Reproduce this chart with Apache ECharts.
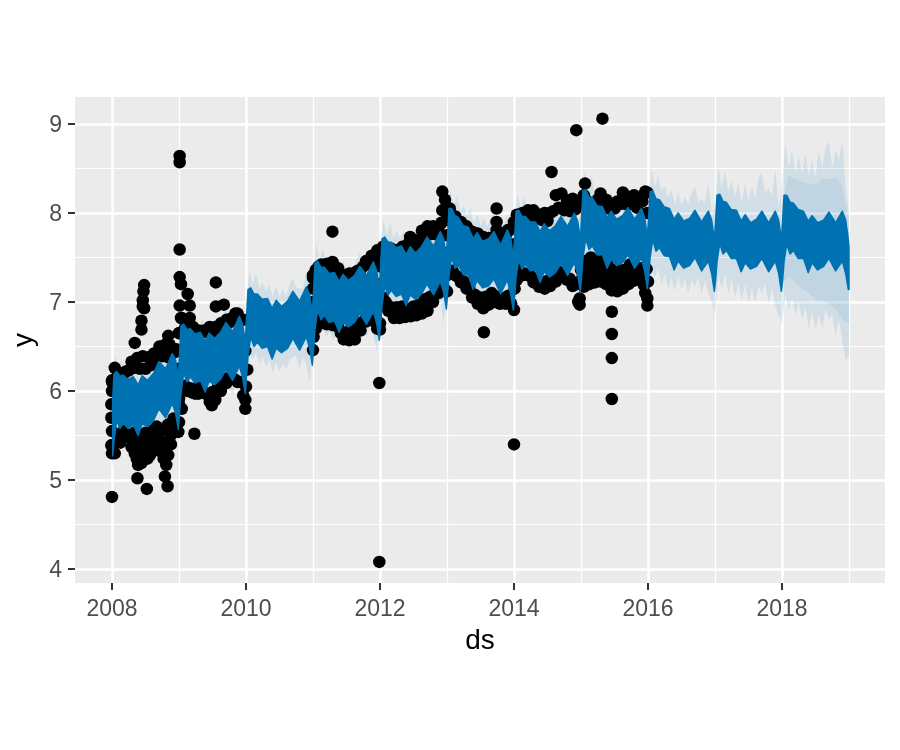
<!DOCTYPE html>
<html><head><meta charset="utf-8">
<script src="https://cdn.jsdelivr.net/npm/echarts@6/dist/echarts.min.js"></script>
<style>html,body{margin:0;background:#fff}#c{width:900px;height:750px}</style></head>
<body><div id="c"></div>
<script>
// Axis ticks
const xMajorTicks=[2008,2010,2012,2014,2016,2018];
const xMinorTicks=[2009,2011,2013,2015,2017,2019];
const yMajorTicks=[4,5,6,7,8,9];
const yMinorTicks=[4.5,5.5,6.5,7.5,8.5];

// Forecast ribbon: knots inside each year, 2008..2018 (16 per year)
const forecastYears=[2008,2009,2010,2011,2012,2013,2014,2015,2016,2017,2018];
const knotFractions=[.01,.03,.07,.12,.17,.24,.32,.39,.45,.53,.62,.70,.80,.90,.95,.99];
const yhatHigh=[
5.90,6.19,6.22,6.17,6.18,6.13,6.16,6.07,6.17,6.12,6.20,6.33,6.25,6.42,6.35,6.15,
6.44,6.73,6.75,6.69,6.70,6.64,6.66,6.56,6.65,6.59,6.66,6.77,6.67,6.84,6.75,6.55,
6.85,7.14,7.16,7.09,7.09,7.03,7.04,6.93,7.02,6.95,7.01,7.12,7.01,7.17,7.08,6.87,
7.15,7.44,7.46,7.39,7.39,7.32,7.33,7.23,7.31,7.24,7.30,7.40,7.30,7.45,7.36,7.15,
7.42,7.71,7.73,7.67,7.67,7.61,7.63,7.53,7.62,7.55,7.62,7.73,7.63,7.79,7.71,7.50,
7.77,8.05,8.05,7.97,7.95,7.86,7.84,7.71,7.78,7.68,7.71,7.79,7.64,7.81,7.72,7.50,
7.73,8.02,8.03,7.96,7.96,7.90,7.90,7.79,7.88,7.80,7.86,7.96,7.85,8.00,7.91,7.70,
7.97,8.25,8.26,8.18,8.17,8.08,8.07,7.95,8.02,7.93,7.97,8.06,7.93,8.05,7.95,7.73,
7.96,8.24,8.25,8.16,8.15,8.07,8.05,7.93,8.00,7.91,7.94,8.03,7.90,8.02,7.92,7.70,
7.92,8.20,8.21,8.13,8.12,8.04,8.03,7.91,7.98,7.89,7.93,8.02,7.89,8.02,7.92,7.70,
7.93,8.20,8.20,8.12,8.11,8.04,8.02,7.91,7.97,7.89,7.92,8.01,7.89,8.02,7.92,7.70];
const yhatLow=[
5.27,5.44,5.67,5.58,5.64,5.58,5.62,5.50,5.63,5.60,5.67,5.80,5.70,5.86,5.75,5.57,
5.77,5.98,6.20,6.10,6.16,6.09,6.12,5.99,6.11,6.07,6.13,6.24,6.12,6.28,6.15,5.97,
6.18,6.39,6.61,6.50,6.55,6.48,6.50,6.36,6.48,6.43,6.48,6.59,6.46,6.61,6.48,6.29,
6.48,6.69,6.91,6.80,6.85,6.77,6.79,6.66,6.77,6.72,6.77,6.87,6.75,6.89,6.76,6.57,
6.75,6.96,7.18,7.08,7.13,7.06,7.09,6.96,7.08,7.03,7.09,7.20,7.08,7.23,7.11,6.92,
7.10,7.30,7.50,7.38,7.41,7.31,7.30,7.14,7.24,7.16,7.18,7.26,7.09,7.25,7.09,6.91,
7.06,7.27,7.48,7.37,7.42,7.35,7.36,7.22,7.34,7.28,7.33,7.43,7.30,7.44,7.31,7.12,
7.30,7.50,7.71,7.59,7.63,7.53,7.53,7.38,7.48,7.41,7.44,7.53,7.38,7.49,7.35,7.15,
7.29,7.49,7.70,7.57,7.61,7.52,7.51,7.36,7.46,7.38,7.41,7.50,7.35,7.46,7.32,7.12,
7.25,7.45,7.66,7.54,7.58,7.49,7.49,7.34,7.44,7.37,7.40,7.49,7.34,7.46,7.32,7.12,
7.25,7.45,7.65,7.54,7.58,7.49,7.49,7.33,7.44,7.36,7.40,7.49,7.35,7.46,7.32,7.14];
const yhatLastTime=2019, yhatLastHigh=7.62, yhatLastLow=7.14;

// Uncertainty interval, one value every 0.05 year, 2008..2018
const bandHigh=[
5.95,6.40,6.25,6.35,6.20,6.25,6.20,6.30,6.12,6.30,6.15,6.28,6.25,6.42,6.50,6.35,6.38,6.35,6.55,6.25,
6.50,6.92,6.78,6.88,6.75,6.80,6.72,6.82,6.65,6.80,6.70,6.78,6.72,6.85,6.92,6.80,6.80,6.80,6.98,6.70,
6.95,7.35,7.20,7.32,7.15,7.22,7.12,7.20,7.05,7.18,7.06,7.15,7.05,7.20,7.27,7.16,7.15,7.15,7.35,7.08,
7.20,7.65,7.48,7.60,7.42,7.50,7.40,7.48,7.32,7.47,7.35,7.42,7.35,7.48,7.55,7.42,7.42,7.42,7.62,7.30,
7.50,7.92,7.75,7.88,7.72,7.80,7.70,7.80,7.62,7.78,7.65,7.72,7.68,7.82,7.90,7.75,7.75,7.78,7.97,7.65,
7.82,8.25,8.08,8.20,8.02,8.08,7.98,8.06,7.88,8.00,7.86,7.95,7.84,7.95,8.00,7.88,7.85,7.85,8.00,7.70,
7.78,8.22,8.05,8.18,8.02,8.08,8.00,8.08,7.90,8.07,7.95,8.02,7.95,8.08,8.15,8.00,8.02,8.02,8.20,7.88,
8.02,8.47,8.30,8.42,8.25,8.30,8.20,8.27,8.10,8.25,8.10,8.17,8.08,8.20,8.28,8.12,8.12,8.12,8.30,8.00,
8.00,8.50,8.30,8.42,8.25,8.30,8.18,8.26,8.10,8.24,8.08,8.18,8.10,8.22,8.30,8.12,8.16,8.12,8.33,8.00,
8.05,8.52,8.28,8.47,8.24,8.36,8.20,8.34,8.12,8.33,8.14,8.30,8.16,8.40,8.45,8.22,8.28,8.18,8.50,8.05,
8.35,8.78,8.50,8.70,8.45,8.65,8.45,8.68,8.42,8.60,8.40,8.70,8.50,8.75,8.80,8.50,8.70,8.60,8.82,8.30,8.00];
const bandLow=[
5.10,5.45,5.42,5.50,5.40,5.47,5.42,5.50,5.35,5.48,5.42,5.48,5.50,5.60,5.65,5.62,5.52,5.68,5.62,5.40,
5.75,5.98,5.93,6.00,5.90,5.97,5.88,5.95,5.85,5.95,5.88,5.95,5.93,6.05,6.08,6.02,5.95,6.08,6.02,5.80,
6.10,6.42,6.35,6.42,6.30,6.38,6.27,6.35,6.20,6.32,6.22,6.30,6.25,6.35,6.38,6.40,6.25,6.38,6.30,6.10,
6.45,6.72,6.65,6.72,6.60,6.67,6.57,6.65,6.52,6.62,6.55,6.60,6.57,6.68,6.72,6.65,6.60,6.72,6.62,6.45,
6.75,7.00,6.92,7.00,6.88,6.95,6.88,6.95,6.80,6.92,6.85,6.90,6.90,7.02,7.05,7.00,6.92,7.05,7.00,6.78,
7.10,7.35,7.27,7.33,7.20,7.27,7.15,7.22,7.05,7.15,7.05,7.10,7.03,7.12,7.15,7.10,6.98,7.10,7.02,6.80,
7.05,7.32,7.22,7.30,7.18,7.25,7.15,7.22,7.08,7.20,7.10,7.18,7.12,7.25,7.30,7.25,7.15,7.28,7.22,7.00,
7.25,7.55,7.45,7.52,7.38,7.45,7.32,7.40,7.20,7.35,7.25,7.30,7.25,7.35,7.40,7.35,7.20,7.35,7.25,7.00,
7.00,7.35,7.28,7.38,7.20,7.32,7.15,7.28,7.12,7.30,7.15,7.25,7.10,7.25,7.18,7.28,7.08,7.25,7.10,7.00,
6.85,7.30,7.15,7.32,7.10,7.25,7.05,7.22,7.02,7.20,7.00,7.15,6.98,7.18,7.10,7.20,6.98,7.15,6.95,6.85,
6.75,7.10,6.90,7.05,6.85,7.00,6.80,6.95,6.70,6.90,6.68,6.85,6.70,6.90,6.80,6.85,6.62,6.80,6.55,6.35,6.40];
// Denser inner part of the interval in the last forecast year, every 0.1 year
const bandCoreHigh2018=[8.10,8.42,8.38,8.35,8.33,8.32,8.38,8.38,8.40,8.30,7.90];
const bandCoreLow2018=[7.20,7.28,7.22,7.15,7.10,7.02,7.02,6.98,6.92,6.80,6.75];

// Observations: densest outer rows and the rows just inside them, one value per month
const obsYears=[2008,2009,2011,2012,2013,2014,2015];
const obsTop=[
6.26,6.20,6.22,6.33,6.37,6.39,6.38,6.42,6.50,6.52,6.47,6.47,
6.82,6.72,6.72,6.68,6.68,6.72,6.72,6.76,6.80,6.82,6.87,6.80,
7.36,7.42,7.43,7.45,7.38,7.30,7.32,7.33,7.36,7.46,7.52,7.58,
7.62,7.58,7.56,7.55,7.62,7.72,7.60,7.80,7.85,7.85,7.84,8.03,
8.05,7.96,7.90,7.85,7.79,7.77,7.73,7.72,7.72,7.70,7.74,7.82,
7.98,8.00,8.03,8.03,7.98,8.00,8.00,8.20,8.22,8.14,8.16,8.12,
8.20,8.10,8.10,8.22,8.15,8.10,8.13,8.23,8.18,8.20,8.15,8.24];
const obsBottom=[
5.30,5.42,5.52,5.37,5.45,5.45,5.45,5.47,5.45,5.40,5.50,5.55,
5.80,6.00,5.98,5.97,5.98,5.88,5.90,6.00,6.09,6.14,6.10,5.95,
6.70,6.78,6.75,6.74,6.72,6.58,6.57,6.58,6.68,6.78,6.82,6.70,
7.05,6.90,6.82,6.82,6.83,6.84,6.85,6.87,6.90,7.00,7.10,7.15,
7.35,7.30,7.22,7.15,7.05,6.98,6.93,6.97,7.00,6.98,6.98,6.98,
7.25,7.30,7.30,7.22,7.17,7.15,7.18,7.23,7.28,7.25,7.18,7.00,
7.17,7.20,7.22,7.23,7.20,7.13,7.12,7.15,7.20,7.24,7.25,7.10];
const obsUpperInner=[
6.10,6.17,6.18,6.23,6.26,6.25,6.25,6.29,6.38,6.39,6.38,6.43,
6.65,6.70,6.69,6.66,6.67,6.66,6.66,6.70,6.76,6.77,6.80,6.80,
7.27,7.40,7.39,7.38,7.35,7.28,7.29,7.30,7.35,7.40,7.43,7.50,
7.54,7.62,7.60,7.58,7.62,7.65,7.58,7.70,7.76,7.76,7.76,7.89,
7.92,7.97,7.90,7.85,7.80,7.75,7.71,7.70,7.72,7.69,7.70,7.80,
7.87,7.98,7.98,7.96,7.94,7.92,7.91,8.02,8.06,8.03,8.02,8.04,
8.10,8.14,8.11,8.15,8.10,8.05,8.05,8.10,8.10,8.10,8.06,8.13];
const obsLowerInner=[
5.39,5.50,5.55,5.48,5.53,5.50,5.53,5.55,5.60,5.56,5.62,5.69,
5.91,6.06,6.03,6.03,6.04,5.96,5.99,6.05,6.14,6.15,6.13,6.10,
6.72,6.80,6.76,6.76,6.75,6.65,6.66,6.67,6.76,6.78,6.80,6.78,
7.02,7.00,6.94,6.94,6.95,6.92,6.95,6.97,7.03,7.06,7.12,7.17,
7.35,7.35,7.28,7.23,7.16,7.08,7.05,7.06,7.10,7.06,7.04,7.07,
7.28,7.35,7.32,7.29,7.25,7.22,7.24,7.26,7.34,7.30,7.26,7.20,
7.36,7.40,7.38,7.38,7.35,7.28,7.28,7.29,7.35,7.34,7.33,7.28];
// 2015 had a thicker lower cloud: two more rows
const obsLower2015A=[7.27,7.30,7.30,7.30,7.28,7.20,7.20,7.22,7.28,7.29,7.29,7.19];
const obsLower2015B=[7.46,7.50,7.46,7.46,7.43,7.36,7.36,7.36,7.42,7.39,7.38,7.37];

// Observations read individually: [year, value]
const obsSingles=[
[2008.00,4.81],[2008.00,5.30],[2007.99,5.39],[2008.00,5.55],[2007.99,5.70],[2007.99,5.85],[2008.00,6.00],[2008.00,6.12],
[2008.34,6.54],[2008.44,6.79],[2008.44,6.69],[2008.46,6.95],[2008.48,7.19],[2008.47,7.12],[2008.46,7.02],[2008.48,6.93],
[2008.84,6.62],[2008.86,6.52],[2008.38,5.02],[2008.39,5.17],[2008.39,5.45],[2008.41,5.37],[2008.44,5.19],[2008.52,4.90],[2008.57,5.28],
[2008.79,5.32],[2008.81,5.17],[2008.79,5.04],[2008.83,4.93],[2008.99,5.54],[2009.23,5.52],
[2008.34,5.30],[2008.37,5.24],[2008.43,5.30],[2008.48,5.33],[2008.53,5.24],[2008.60,5.38],[2008.68,5.40],[2008.73,5.32],[2008.77,5.24],[2008.84,5.28],[2008.88,5.40],
[2009.01,8.64],[2009.01,8.57],[2009.01,7.59],[2009.01,7.28],[2009.03,7.20],[2009.13,7.09],[2009.16,6.96],[2009.01,6.96],[2009.16,6.82],[2009.03,6.82],
[2009.00,6.65],[2009.00,6.45],[2009.00,6.25],[2009.00,6.05],[2009.00,5.85],[2009.00,5.65],
[2009.55,7.22],[2009.55,6.95],[2009.67,6.97],[2009.84,6.87],[2009.49,5.84],[2009.49,5.94],[2009.24,5.97],
[2009.99,5.80],[2009.99,5.90],[2010.00,6.05],[2010.02,6.24],[2009.99,6.45],
[2011.00,6.46],[2011.01,6.61],[2011.03,6.78],[2011.29,7.79],[2011.29,7.44],[2011.00,7.00],[2011.00,7.15],[2011.00,7.30],
[2011.99,6.09],[2011.99,4.08],[2012.00,6.69],[2012.00,6.76],[2011.99,6.95],[2012.00,7.20],[2012.00,7.40],[2012.45,7.73],
[2012.93,8.24],[2012.97,8.15],[2012.93,8.03],[2013.00,7.95],[2013.00,7.75],[2013.00,7.55],[2013.00,7.30],[2013.00,7.12],
[2013.55,6.66],[2013.74,8.05],[2013.74,7.90],[2013.74,7.81],[2013.91,7.81],[2014.00,6.91],[2014.01,7.15],[2014.00,5.40],[2014.00,7.40],[2014.00,7.65],[2014.00,7.90],
[2014.56,8.46],[2014.93,8.93],[2015.32,9.06],[2014.98,6.97],[2014.98,7.04],[2015.06,8.33],
[2015.46,6.89],[2015.46,6.64],[2015.46,6.37],[2015.46,5.91],[2015.99,6.96],[2015.99,7.04],[2016.00,7.23],[2015.99,8.23],[2015.99,8.00]];

const obsPoints=obsSingles.slice();
obsYears.forEach((yr,i)=>{
  for(let m=0;m<12;m++){
    const t=yr+(m+.5)/12, h=yr+m/12, n=i*12+m;
    obsPoints.push([t,obsTop[n]],[t,obsBottom[n]],[h,obsUpperInner[n]],[h,obsLowerInner[n]]);
  }
});
obsLower2015A.forEach((v,m)=>obsPoints.push([2015+(m+.25)/12,v]));
obsLower2015B.forEach((v,m)=>obsPoints.push([2015+(m+.75)/12,v]));
const yhatRows=[];
forecastYears.forEach((yr,i)=>knotFractions.forEach((f,k)=>{
  const n=i*knotFractions.length+k;
  yhatRows.push([yr+f,yhatLow[n],yhatHigh[n]]);
}));
yhatRows.push([yhatLastTime,yhatLastLow,yhatLastHigh]);
const bandRows=bandHigh.map((h,i)=>[2008+i*.05,bandLow[i],h]);
const bandCoreRows=bandCoreHigh2018.map((h,i)=>[2018+i*.1,bandCoreLow2018[i],h]);

function ribbon(name,rows,color,opacity,z,stroke){
  return {type:'custom',name,data:rows,z,silent:true,animation:false,progressive:0,
    encode:{x:0,y:[1,2]},clip:true,
    renderItem:(p,api)=>{
      if(p.dataIndex!==0) return null;
      const pts=rows.map(r=>api.coord([r[0],r[2]]));
      for(let i=rows.length-1;i>=0;i--) pts.push(api.coord([rows[i][0],rows[i][1]]));
      return {type:'polygon',shape:{points:pts},style:{fill:color,opacity,stroke:stroke||null,lineWidth:stroke?1.5:0,lineJoin:'round'}};
    }};
}
const TICK='#4D4D4D', FONT='"Liberation Sans",Arimo,Helvetica,Arial,sans-serif';
const hidden={axisLine:{show:false},axisTick:{show:false},axisLabel:{show:false}};
const chart=echarts.init(document.getElementById('c'),null,{renderer:'canvas'});
chart.setOption({
  animation:false,backgroundColor:'#fff',
  grid:{left:75,top:97,width:810,height:486,show:true,backgroundColor:'#EBEBEB',borderWidth:0,outerBoundsMode:'none'},
  xAxis:[
   {type:'value',min:2007.448,max:2019.537,name:'ds',nameLocation:'middle',nameGap:44,
    nameTextStyle:{color:'#000',fontSize:28,fontFamily:FONT},
    axisLine:{show:false},
    axisTick:{show:true,length:7,customValues:xMajorTicks,lineStyle:{color:'#333',width:2}},
    axisLabel:{show:true,color:TICK,fontSize:23,fontFamily:FONT,margin:15,customValues:xMajorTicks,formatter:v=>String(v)},
    splitLine:{show:true,lineStyle:{color:'#fff',width:2.5}}},
   {type:'value',min:2007.448,max:2019.537,position:'bottom',...hidden,
    axisTick:{show:false,customValues:xMinorTicks},
    splitLine:{show:true,lineStyle:{color:'#fff',width:1.2}}}
  ],
  yAxis:[
   {type:'value',min:3.843,max:9.303,name:'y',nameLocation:'middle',nameGap:27,
    nameTextStyle:{color:'#000',fontSize:28,fontFamily:FONT},
    axisLine:{show:false},
    axisTick:{show:true,length:7,customValues:yMajorTicks,lineStyle:{color:'#333',width:2}},
    axisLabel:{show:true,margin:13,customValues:yMajorTicks,formatter:v=>'{n|'+v+'}',
      rich:{n:{color:TICK,fontSize:23,fontFamily:FONT,padding:[4,0,0,0]}}},
    splitLine:{show:true,lineStyle:{color:'#fff',width:2.5}}},
   {type:'value',min:3.843,max:9.303,position:'left',...hidden,
    axisTick:{show:false,customValues:yMinorTicks},
    splitLine:{show:true,lineStyle:{color:'#fff',width:1.2}}}
  ],
  series:[
    ribbon('interval',bandRows,'#0072B2',0.11,1),
    ribbon('interval core',bandCoreRows,'#0072B2',0.08,1),
    {type:'scatter',name:'y',data:obsPoints,symbol:'circle',symbolSize:12.5,z:2,silent:true,large:false,
     itemStyle:{color:'#000',opacity:1}},
    ribbon('yhat',yhatRows,'#0072B2',1,3,'#0072B2')
  ]
});
</script></body></html>
